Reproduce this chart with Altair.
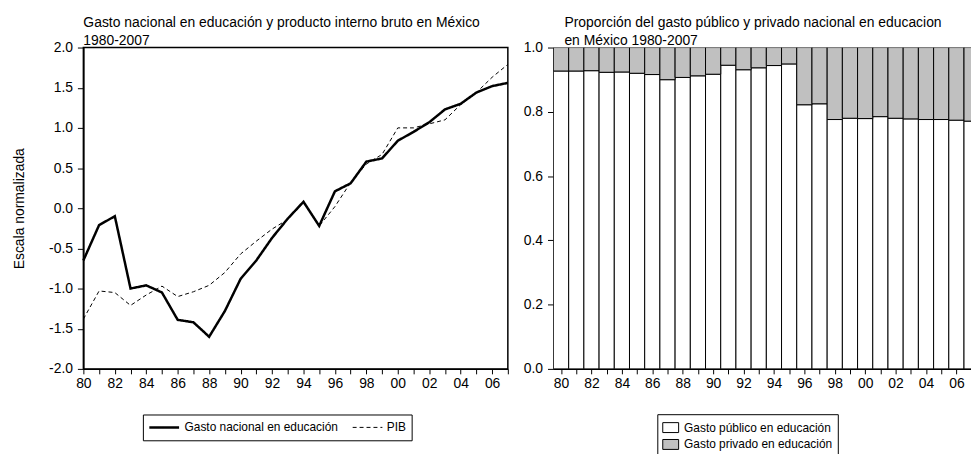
import altair as alt
import pandas as pd

FONT = "Liberation Sans, Arial, sans-serif"

years = list(range(1980, 2008))

# Left panel: normalized series
gasto_nacional = [-0.65, -0.21, -0.10, -1.00, -0.96, -1.05, -1.39, -1.42, -1.60, -1.28,
                  -0.88, -0.65, -0.37, -0.13, 0.08, -0.22, 0.21, 0.31, 0.58, 0.62,
                  0.84, 0.95, 1.07, 1.23, 1.30, 1.44, 1.52, 1.56]
pib = [-1.38, -1.03, -1.05, -1.21, -1.08, -0.97, -1.10, -1.04, -0.96, -0.80,
       -0.57, -0.41, -0.26, -0.14, 0.07, -0.22, 0.02, 0.32, 0.55, 0.67,
       1.00, 1.00, 1.05, 1.10, 1.29, 1.44, 1.63, 1.79]

# Right panel: shares
publico = [0.927, 0.927, 0.928, 0.923, 0.924, 0.920, 0.916, 0.900, 0.907, 0.912,
           0.917, 0.945, 0.931, 0.937, 0.944, 0.949, 0.822, 0.825, 0.776, 0.780,
           0.779, 0.785, 0.780, 0.778, 0.776, 0.776, 0.774, 0.771]
privado = [0.073, 0.073, 0.072, 0.077, 0.076, 0.080, 0.084, 0.100, 0.093, 0.088,
           0.083, 0.055, 0.069, 0.063, 0.056, 0.051, 0.178, 0.175, 0.224, 0.220,
           0.221, 0.215, 0.220, 0.222, 0.224, 0.224, 0.226, 0.229]

s_gasto = "Gasto nacional en educación"
s_pib = "PIB"
s_pub = "Gasto público en educación"
s_priv = "Gasto privado en educación"

left_title = ["Gasto nacional en educación y producto interno bruto en México", "1980-2007"]
right_title = ["Proporción del gasto público y privado nacional en educacion", "en México 1980-2007"]
y_title = "Escala normalizada"
y_ticks_left = [-2.0, -1.5, -1.0, -0.5, 0.0, 0.5, 1.0, 1.5, 2.0]
y_ticks_right = [0.0, 0.2, 0.4, 0.6, 0.8, 1.0]
x_ticks_right = years[:-1]

n = len(years)
lines_df = pd.DataFrame({
    "year": years + years,
    "value": gasto_nacional + pib,
    "series": [s_gasto] * n + [s_pib] * n,
})
bars_df = pd.DataFrame({
    "year": years + years,
    "share": publico + privado,
    "series": [s_pub] * n + [s_priv] * n,
    "ord": [0] * n + [1] * n,
})

year_label = "datum.value % 2 == 0 ? substring(toString(datum.value), 2, 4) : ''"
minus_label = "(datum.value < 0 ? '-' : '') + format(abs(datum.value), '.1f')"

line_legend = alt.Legend(
    title=None, orient="none", legendX=60, legendY=370, direction="horizontal",
    strokeColor="black", padding=5, symbolType="stroke", symbolSize=900, clipHeight=16,
    symbolStrokeColor="black", labelFontSize=12, labelOffset=4, columnPadding=14,
    labelFont=FONT, labelColor="black", labelLimit=400,
)

left = alt.Chart(
    lines_df, width=428, height=324,
    title=alt.TitleParams(text=left_title, anchor="start", frame="group", offset=-7, lineHeight=18),
    view=alt.ViewBackground(stroke="black", strokeWidth=1.5),
).mark_line(color="black").encode(
    x=alt.X("year:Q", scale=alt.Scale(domain=[1980, 2007], nice=False, zero=False),
            axis=alt.Axis(title=None, values=years, labelExpr=year_label, tickSize=5,
                          labelPadding=3, labelOverlap=False, labelFlush=False)),
    y=alt.Y("value:Q", scale=alt.Scale(domain=[-2, 2], nice=False, zero=False),
            axis=alt.Axis(title=y_title, values=y_ticks_left, labelExpr=minus_label,
                          tickSize=6, labelPadding=5, titlePadding=22)),
    strokeDash=alt.StrokeDash("series:N",
                              scale=alt.Scale(domain=[s_gasto, s_pib], range=[[1, 0], [4, 3]]),
                              legend=line_legend),
    strokeWidth=alt.StrokeWidth("series:N",
                                scale=alt.Scale(domain=[s_gasto, s_pib], range=[2.5, 1.0]),
                                legend=line_legend),
)

bar_legend = alt.Legend(
    title=None, orient="none", legendX=578.7, legendY=369.7, direction="vertical",
    strokeColor="black", padding=5, symbolType="M-1,-0.625H1V0.625H-1Z", symbolSize=256,
    symbolStrokeColor="black", symbolStrokeWidth=1, labelFontSize=12, labelOffset=5,
    rowPadding=1, labelFont=FONT, labelColor="black", labelLimit=400,
)

right = alt.Chart(
    bars_df, width=421, height=324,
    title=alt.TitleParams(text=right_title, anchor="start", frame="group", offset=-7, lineHeight=18, dx=11),
    view=alt.ViewBackground(strokeWidth=0),
).transform_calculate(
    x0="datum.year - 0.5", x1="datum.year + 0.5"
).transform_stack(
    stack="share", groupby=["year"], as_=["y0", "y1"],
    sort=[alt.SortField("ord", order="ascending")],
).mark_bar(stroke="black", strokeWidth=1, clip=True).encode(
    x=alt.X("x0:Q", scale=alt.Scale(domain=[1979.5, 2006.96], nice=False, zero=False),
            axis=alt.Axis(title=None, values=x_ticks_right, labelExpr=year_label, tickSize=5,
                          labelPadding=3, labelOverlap=False, labelFlush=False)),
    x2="x1:Q",
    y=alt.Y("y0:Q", scale=alt.Scale(domain=[0, 1], nice=False),
            axis=alt.Axis(title=None, values=y_ticks_right, format=".1f", tickSize=6,
                          labelPadding=5)),
    y2="y1:Q",
    fill=alt.Fill("series:N",
                  scale=alt.Scale(domain=[s_pub, s_priv], range=["white", "#c0c0c0"]),
                  legend=bar_legend),
)

chart = alt.hconcat(left, right, spacing=46, bounds="flush").properties(
    padding={"left": 4, "top": 5, "right": 0, "bottom": 0}
).configure_axis(
    labelFont=FONT, labelFontSize=14, labelColor="black", domainColor="black",
    domainWidth=1.5, tickColor="black", tickWidth=1, grid=False,
    titleFont=FONT, titleFontSize=14, titleFontWeight="normal", titleColor="black",
).configure_title(
    font=FONT, fontSize=14, fontWeight="normal", color="black",
).configure_view(stroke="black")

chart.save("out.html", embed_options={"renderer": "svg", "actions": False})
